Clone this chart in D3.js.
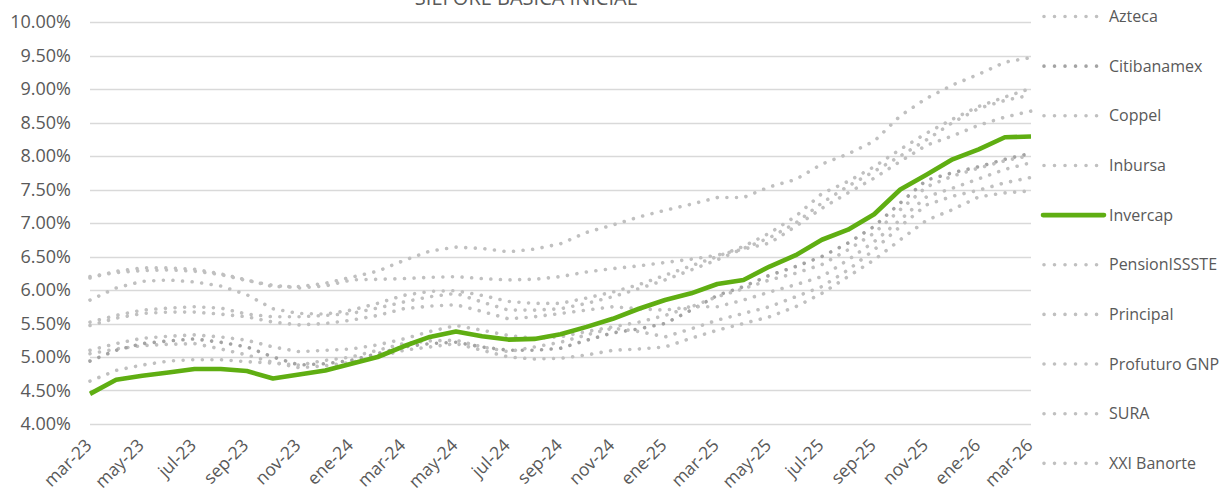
<!DOCTYPE html>
<html>
<head>
<meta charset="utf-8">
<script src="https://cdn.jsdelivr.net/npm/d3@7"></script>
<style>
body{margin:0;background:#fff;}
svg text{font-family:"Open Sans",sans-serif;fill:#595959;}
</style>
</head>
<body>
<svg id="chart" width="1223" height="495"></svg>
<script>
// categories
var months = ["mar-23","abr-23","may-23","jun-23","jul-23","ago-23","sep-23","oct-23","nov-23","dic-23",
	"ene-24","feb-24","mar-24","abr-24","may-24","jun-24","jul-24","ago-24","sep-24","oct-24","nov-24","dic-24",
	"ene-25","feb-25","mar-25","abr-25","may-25","jun-25","jul-25","ago-25","sep-25","oct-25","nov-25","dic-25",
	"ene-26","feb-26","mar-26"];

var yTicks = [4,4.5,5,5.5,6,6.5,7,7.5,8,8.5,9,9.5,10];

// series values (%)
var azteca       = [5.05,5.12,5.17,5.19,5.2,5.12,5.03,4.92,4.84,4.87,4.92,5.0,5.1,5.15,5.2,5.1,5.0,4.97,4.98,5.03,5.1,5.12,5.15,5.28,5.4,5.5,5.6,5.75,5.95,6.2,6.45,6.75,7.04,7.2,7.39,7.45,7.48];
var citibanamex  = [4.94,5.1,5.2,5.24,5.27,5.22,5.15,5.0,4.88,4.9,4.95,5.05,5.15,5.2,5.22,5.15,5.1,5.1,5.13,5.25,5.36,5.42,5.5,5.7,5.92,6.05,6.22,6.35,6.5,6.7,6.95,7.3,7.64,7.75,7.84,7.95,8.04];
var coppel       = [4.64,4.8,4.88,4.94,4.96,4.96,4.93,4.91,4.88,4.95,5.0,5.1,5.2,5.24,5.25,5.15,5.08,5.15,5.22,5.33,5.43,5.38,5.3,5.42,5.55,5.65,5.75,5.9,6.05,6.3,6.6,6.95,7.27,7.4,7.49,7.6,7.68];
var inbursa      = [5.1,5.2,5.28,5.31,5.33,5.3,5.25,5.15,5.08,5.1,5.12,5.18,5.27,5.38,5.47,5.4,5.32,5.28,5.3,5.38,5.45,5.52,5.62,5.75,5.9,6.02,6.15,6.25,6.38,6.6,6.85,7.2,7.54,7.7,7.82,7.93,8.01];
var invercap     = [4.45,4.66,4.72,4.77,4.82,4.82,4.79,4.68,4.74,4.8,4.9,5.0,5.16,5.3,5.38,5.31,5.26,5.27,5.34,5.45,5.57,5.72,5.85,5.95,6.09,6.15,6.35,6.52,6.75,6.9,7.13,7.5,7.72,7.95,8.1,8.28,8.29];
var pensionissste= [6.2,6.26,6.29,6.3,6.28,6.23,6.14,6.07,6.03,6.06,6.15,6.16,6.17,6.19,6.2,6.17,6.15,6.16,6.2,6.27,6.32,6.36,6.41,6.46,6.52,6.61,6.7,6.95,7.22,7.45,7.67,7.92,8.16,8.3,8.46,8.58,8.67];
var principal    = [5.47,5.58,5.65,5.67,5.67,5.64,5.6,5.52,5.48,5.5,5.55,5.62,5.72,5.76,5.78,5.68,5.57,5.6,5.65,5.7,5.75,5.72,5.7,5.75,5.75,5.85,5.97,6.08,6.2,6.45,6.72,7.05,7.39,7.52,7.66,7.8,7.9];
var profuturo    = [6.18,6.28,6.33,6.33,6.31,6.24,6.15,6.05,6.05,6.1,6.19,6.28,6.44,6.58,6.64,6.62,6.57,6.61,6.69,6.86,6.97,7.09,7.19,7.28,7.38,7.38,7.54,7.65,7.88,8.03,8.22,8.6,8.86,9.06,9.22,9.4,9.47];
var sura         = [5.85,6.03,6.13,6.15,6.12,6.06,5.93,5.72,5.65,5.64,5.7,5.8,5.92,5.98,5.99,5.92,5.83,5.8,5.8,5.88,5.97,6.08,6.22,6.36,6.5,6.65,6.85,7.1,7.44,7.62,7.84,8.1,8.34,8.55,8.74,8.88,9.01];
var xxiBanorte   = [5.52,5.62,5.7,5.73,5.75,5.73,5.64,5.6,5.6,5.62,5.65,5.73,5.82,5.9,5.95,5.82,5.7,5.7,5.72,5.8,5.9,6.02,6.15,6.3,6.45,6.62,6.78,7.0,7.3,7.55,7.77,8.0,8.24,8.5,8.71,8.83,8.91];

var seriesNames = ["Azteca","Citibanamex","Coppel","Inbursa","Invercap","PensionISSSTE","Principal","Profuturo GNP","SURA","XXI Banorte"];
var seriesValues = [azteca,citibanamex,coppel,inbursa,invercap,pensionissste,principal,profuturo,sura,xxiBanorte];

var GREEN = "#5fae12";
var LIGHT = "#c0c0c0";
var DARK = "#a3a3a3";

function styleOf(name){
	if(name == "Invercap") return {color: GREEN, dotted: false};
	if(name == "Citibanamex") return {color: DARK, dotted: true};
	return {color: LIGHT, dotted: true};
}

var svg = d3.select("#chart");

var x = d3.scalePoint().domain(months).range([90, 1031]);
var y = d3.scaleLinear().domain([4, 10]).range([424, 22]);

// title (cut at top edge like the original)
svg.append("text")
	.attr("x", 526)
	.attr("y", 5)
	.attr("text-anchor", "middle")
	.attr("font-size", "20px")
	.text("SIEFORE BÁSICA INICIAL");

// gridlines
svg.append("g")
	.selectAll("line")
	.data(yTicks)
	.enter()
	.append("line")
	.attr("x1", 90)
	.attr("x2", 1031)
	.attr("y1", function(d){ return Math.round(y(d)) + 0.5; })
	.attr("y2", function(d){ return Math.round(y(d)) + 0.5; })
	.attr("stroke", "#d9d9d9")
	.attr("stroke-width", 1.3);

// y axis
var yAxis = svg.append("g")
	.attr("transform", "translate(90,0)")
	.call(d3.axisLeft(y).tickValues(yTicks).tickSize(0).tickPadding(19)
		.tickFormat(function(d){ return d.toFixed(2) + "%"; }));
yAxis.select(".domain").remove();
yAxis.selectAll("text")
	.attr("font-size", "18px")
	.attr("fill", "#595959");

// x axis
var xAxis = svg.append("g")
	.attr("transform", "translate(0,424)")
	.call(d3.axisBottom(x).tickValues(months.filter(function(d, i){ return i % 2 == 0; })).tickSize(0));
xAxis.select(".domain").remove();
xAxis.selectAll("text")
	.attr("font-size", "17.5px")
	.attr("fill", "#595959")
	.attr("text-anchor", "end")
	.attr("x", 0)
	.attr("y", 0)
	.attr("dy", "0.35em")
	.attr("transform", "translate(-2,18) rotate(-45)");

// lines
var line = d3.line()
	.x(function(d, i){ return x(months[i]); })
	.y(function(d){ return y(d); });

var order = [0,1,2,3,5,6,7,8,9,4];
for(let k of order){
	var st = styleOf(seriesNames[k]);
	var path = svg.append("path")
		.datum(seriesValues[k])
		.attr("d", line)
		.attr("fill", "none")
		.attr("stroke", st.color)
		.attr("stroke-linejoin", "round");
	if(st.dotted){
		path.attr("stroke-width", 3.6)
			.attr("stroke-linecap", "round")
			.attr("stroke-dasharray", "0.01 9.6");
	}
	else{
		path.attr("stroke-width", 4.6)
			.attr("stroke-linecap", "butt");
	}
}

// legend
var legend = svg.append("g");
seriesNames.forEach(function(name, i){
	var st = styleOf(name);
	var ly = 16.5 + i * 49.65;
	var l = legend.append("line")
		.attr("x1", st.dotted ? 1044 : 1043)
		.attr("x2", st.dotted ? 1099 : 1104)
		.attr("y1", ly)
		.attr("y2", ly)
		.attr("stroke", st.color);
	if(st.dotted){
		l.attr("stroke-width", 3.6)
		 .attr("stroke-linecap", "round")
		 .attr("stroke-dasharray", "0.01 10.5");
	}
	else{
		l.attr("stroke-width", 4.6)
		 .attr("stroke-linecap", "round");
	}
	legend.append("text")
		.attr("x", 1109)
		.attr("y", ly)
		.attr("dy", "0.35em")
		.attr("font-size", "16px")
		.text(name);
});
</script>
</body>
</html>
